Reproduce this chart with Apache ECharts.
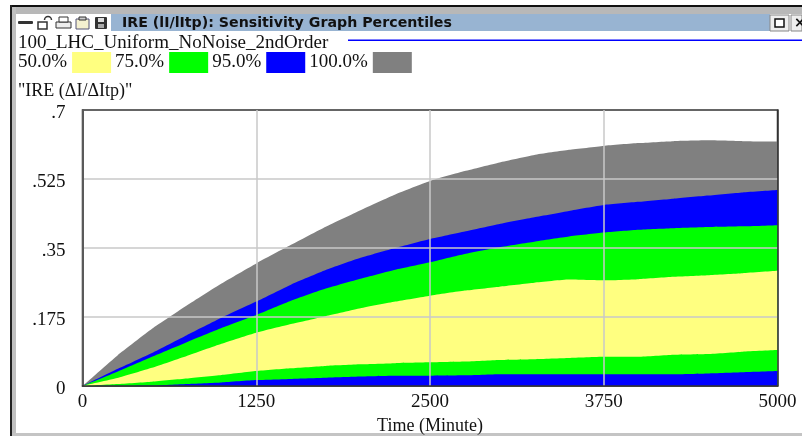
<!DOCTYPE html>
<html><head><meta charset="utf-8">
<style>html,body{margin:0;padding:0;background:#fff}#c{width:802px;height:436px}</style>
<script src="https://cdn.jsdelivr.net/npm/echarts@6/dist/echarts.min.js"></script>
</head><body><div id="c"></div>
<script>
const times = [0,250,500,750,1000,1250,1500,1750,2000,2250,2500,2750,3000,3250,3500,3750,4000,4250,4500,4750,5000];
const p100 = [0,.077,.145,.204,.260,.311,.358,.404,.446,.486,.520,.545,.567,.586,.599,.609,.616,.621,.623,.621,.620];
const p95hi = [0,.043,.084,.129,.173,.214,.257,.294,.325,.350,.373,.392,.411,.428,.444,.459,.467,.475,.483,.491,.497];
const p75hi = [0,.036,.074,.111,.147,.180,.216,.247,.272,.295,.314,.335,.352,.366,.379,.389,.396,.400,.403,.405,.408];
const p50hi = [0,.020,.046,.076,.107,.135,.157,.177,.197,.214,.229,.242,.252,.262,.270,.268,.271,.277,.281,.286,.292];
const p50lo = [0,.005,.011,.019,.028,.038,.045,.051,.055,.058,.060,.062,.066,.068,.071,.074,.074,.079,.081,.087,.091];
const p75lo = [0,.0005,.001,.005,.009,.015,.018,.021,.024,.026,.026,.027,.030,.030,.030,.030,.030,.030,.032,.035,.038];
const legendNames = ['50.0%','75.0%','95.0%','100.0%'];
const yTicks = {0:'0',0.175:'.175',0.35:'.35',0.525:'.525',0.7:'.7'};
const titleText = 'IRE (lI/lItp): Sensitivity Graph Percentiles';
const runName = '100_LHC_Uniform_NoNoise_2ndOrder';
const yName = '"IRE (ΔI/ΔItp)"';
const xName = 'Time (Minute)';
const YEL='#ffff80', GRN='#00ff00', BLU='#0000ff', GRY='#808080';
const serif='"Liberation Serif","Times New Roman",serif';

function band(name,vals,color){
  return {name,type:'line',data:times.map((t,i)=>[t,vals[i]]),symbol:'none',showSymbol:false,smooth:0.15,
    lineStyle:{width:0,color},itemStyle:{color},areaStyle:{color,opacity:1},emphasis:{disabled:true},silent:true};
}
const ic='#333';
const chart=echarts.init(document.getElementById('c'),null,{renderer:'canvas'});
chart.setOption({
  animation:false,
  backgroundColor:'#fff',
  textStyle:{fontFamily:serif},
  grid:{left:82.5,right:24.5,top:110,bottom:50,show:true,borderColor:'#333',borderWidth:1.5,backgroundColor:'#fff',outerBoundsMode:'none'},
  legend:{data:legendNames,left:18,top:52,orient:'horizontal',align:'right',itemWidth:39,itemHeight:21,itemGap:4,
    icon:'rect',selectedMode:false,padding:0,textStyle:{fontFamily:serif,fontSize:19,color:'#111',padding:[4,0,0,0]}},
  xAxis:{type:'value',min:0,max:5000,interval:1250,z:5,
    name:xName,nameLocation:'middle',nameGap:27,nameTextStyle:{fontFamily:serif,fontSize:18,color:'#111'},
    axisLine:{show:true,onZero:false,lineStyle:{color:'#333',width:1.5}},axisTick:{show:false},
    axisLabel:{fontFamily:serif,fontSize:19,color:'#111',margin:7,formatter:v=>String(v),hideOverlap:false},
    splitLine:{show:true,showMinLine:false,showMaxLine:false,lineStyle:{color:'#c8c8c8',width:1.5}}},
  yAxis:[{type:'value',min:0,max:0.7,interval:0.175,z:5,
    axisLine:{show:true,onZero:false,lineStyle:{color:'#5a5a5a',width:2}},axisTick:{show:false},
    axisLabel:{fontFamily:serif,fontSize:19,color:'#111',margin:17,verticalAlign:'top',lineHeight:6,formatter:v=>yTicks[v]??'',hideOverlap:false},
    splitLine:{show:true,showMinLine:false,showMaxLine:false,lineStyle:{color:'#c8c8c8',width:1.5}}},
    {type:'value',position:'right',min:0,max:0.7,interval:0.175,z:5,
    axisLine:{show:true,onZero:false,lineStyle:{color:'#333',width:1.5}},axisTick:{show:false},axisLabel:{show:false},splitLine:{show:false}}],
  series:[band('100.0%',p100,GRY),band('95.0%',p95hi,BLU),band('75.0%',p75hi,GRN),band('50.0%',p50hi,YEL),
          band('75.0% low',p50lo,GRN),band('95.0% low',p75lo,BLU)],
  graphic:[
    {type:'rect',shape:{x:10,y:5,width:792,height:2},style:{fill:'#111'}},
    {type:'rect',shape:{x:12,y:7,width:790,height:7},style:{fill:'#b8b8b8'}},
    {type:'rect',shape:{x:10,y:5,width:2,height:431},style:{fill:'#222'}},
    {type:'rect',shape:{x:12,y:7,width:4,height:429},style:{fill:'#c0c0c0'}},
    {type:'rect',shape:{x:12,y:433,width:790,height:3},style:{fill:'#c4c4c4'}},
    {type:'rect',shape:{x:111,y:14,width:659,height:17},style:{fill:'#98b4d2'}},
    {type:'text',x:122,y:23,style:{text:titleText,fill:'#111',font:'bold 14.2px "DejaVu Sans"',textVerticalAlign:'middle'}},
    // toolbar icons
    {type:'rect',shape:{x:18,y:21,width:15,height:3,r:1},style:{fill:ic}},
    {type:'rect',shape:{x:38,y:22,width:9,height:7},style:{fill:'#fff',stroke:ic,lineWidth:1.5}},
    {type:'arc',shape:{cx:48,cy:20,r:3.5,startAngle:Math.PI,endAngle:0},style:{fill:'none',stroke:ic,lineWidth:1.5}},
    {type:'rect',shape:{x:56,y:22,width:15,height:6},style:{fill:'#eee',stroke:ic,lineWidth:1}},
    {type:'rect',shape:{x:59,y:17,width:9,height:5},style:{fill:'#fff',stroke:ic,lineWidth:1}},
    {type:'rect',shape:{x:76,y:19,width:13,height:10},style:{fill:'#f4f0d0',stroke:'#557',lineWidth:1}},
    {type:'rect',shape:{x:79,y:17,width:7,height:3},style:{fill:'#ccc',stroke:ic,lineWidth:1}},
    {type:'rect',shape:{x:95,y:17,width:12,height:12,r:1},style:{fill:ic}},
    {type:'rect',shape:{x:98,y:18,width:6,height:4},style:{fill:'#ddd'}},
    {type:'rect',shape:{x:98,y:24,width:6,height:4},style:{fill:'#aaa'}},
    // window buttons
    {type:'rect',shape:{x:770,y:15,width:19,height:16},style:{fill:'#eee',stroke:'#888',lineWidth:1}},
    {type:'rect',shape:{x:775,y:19,width:9,height:8},style:{fill:'#fff',stroke:'#111',lineWidth:1.5}},
    {type:'rect',shape:{x:791,y:15,width:11,height:16},style:{fill:'#eee',stroke:'#888',lineWidth:1}},
    {type:'text',x:794,y:23,style:{text:'×',fill:'#111',font:'bold 14px "DejaVu Sans"',textVerticalAlign:'middle'}},
    // run name + line
    {type:'text',x:18,y:43,style:{text:runName,fill:'#111',font:'19px '+serif,textVerticalAlign:'middle'}},
    {type:'rect',shape:{x:348,y:39.5,width:454,height:1.5},style:{fill:'#0000ff'}},
    {type:'text',x:18,y:91,style:{text:yName,fill:'#111',font:'18px '+serif,textVerticalAlign:'middle'}}
  ]
});
</script></body></html>
